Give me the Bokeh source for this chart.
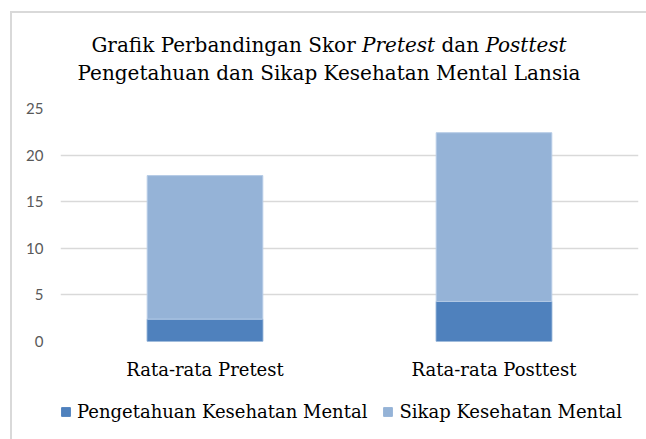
from bokeh.plotting import figure
from bokeh.models import Legend, LegendItem, FactorRange, FixedTicker, Div, Range1d
from bokeh.layouts import column
from bokeh.embed import file_html
from bokeh.resources import INLINE

categories = ["Rata-rata Pretest", "Rata-rata Posttest"]
pengetahuan = [2.4, 4.3]
sikap = [15.4, 18.1]
y_ticks = [0, 5, 10, 15, 20, 25]
series_names = ["Pengetahuan Kesehatan Mental", "Sikap Kesehatan Mental"]
colors = ["#4F81BD", "#95B3D7"]

SERIF = "DejaVu Serif"
SANS = "Lato"

title_html = (
    "<div style=\"font-family:'DejaVu Serif'; font-size:20px; line-height:28px; color:#000000;"
    " text-align:center; padding-top:18px; padding-left:20px; width:614px; white-space:nowrap;\">"
    "Grafik Perbandingan Skor <i>Pretest</i> dan <i>Posttest</i><br>"
    "Pengetahuan dan Sikap Kesehatan Mental Lansia</div>"
)
title_div = Div(text=title_html, width=634, height=80, margin=0)

p = figure(
    x_range=FactorRange(*categories, range_padding=0),
    y_range=(0, 25),
    width=634, height=289,
    output_backend="svg", toolbar_location=None,
    min_border_left=48, min_border_right=8,
    min_border_top=15, min_border_bottom=40,
    margin=0,
)
p.outline_line_color = None
p.background_fill_color = "white"
p.border_fill_color = "white"

data = {"cat": categories, "peng": pengetahuan, "sikap": sikap}
r = p.vbar_stack(["peng", "sikap"], x="cat", width=0.4, source=data,
                 color=colors, line_color=["#6f99ca", "#b5cbe6"], line_width=1)

p.yaxis.ticker = FixedTicker(ticks=y_ticks)
p.yaxis.axis_line_color = None
p.yaxis.major_tick_line_color = None
p.yaxis.minor_tick_line_color = None
p.yaxis.major_tick_out = 0
p.yaxis.minor_tick_out = 0
p.yaxis.major_label_text_font = SANS
p.yaxis.major_label_text_font_size = "15px"
p.yaxis.major_label_text_color = "#595959"
p.yaxis.major_label_standoff = 17

p.xaxis.axis_line_color = None
p.xaxis.major_tick_line_color = None
p.xaxis.minor_tick_line_color = None
p.xaxis.major_tick_out = 0
p.xaxis.minor_tick_out = 0
p.xaxis.major_label_text_font = SERIF
p.xaxis.major_label_text_font_size = "18px"
p.xaxis.major_label_text_color = "#000000"
p.xaxis.major_label_standoff = 17

p.xgrid.grid_line_color = None
p.ygrid.ticker = FixedTicker(ticks=y_ticks)
p.ygrid.grid_line_color = "#d9d9d9"
p.ygrid.grid_line_width = 1.5

# legend strip (same stacked series, kept out of view; only its legend is shown)
lf = figure(width=634, height=57, x_range=FactorRange(*categories), y_range=Range1d(100, 101),
            x_axis_location=None, y_axis_location=None,
            output_backend="svg", toolbar_location=None,
            min_border_left=0, min_border_right=0, min_border_top=0, min_border_bottom=0,
            margin=0)
lf.grid.visible = False
lf.outline_line_color = None
lf.border_fill_color = "white"
lf.background_fill_color = "white"
lr = lf.vbar_stack(["peng", "sikap"], x="cat", width=0.4, source=data, color=colors)

legend = Legend(items=[LegendItem(label=series_names[i], renderers=[lr[i]]) for i in range(2)],
                location=(0, 17), orientation="horizontal",
                label_text_font=SERIF, label_text_font_size="18px", label_text_color="#000000",
                glyph_width=11, glyph_height=11, label_standoff=6, spacing=15,
                padding=0, margin=0, border_line_color=None, background_fill_alpha=0)
lf.add_layout(legend, "center")

layout = column(title_div, p, lf, margin=(11, 0, 0, 10), spacing=0,
                styles={"border-left": "2px solid #d9d9d9", "border-top": "2px solid #d9d9d9"})

open("out.html", "w").write(file_html(layout, INLINE))
